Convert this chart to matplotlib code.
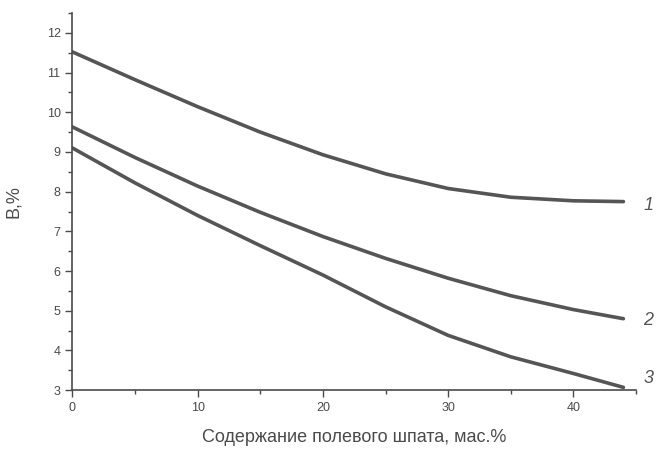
import matplotlib
matplotlib.use("Agg")
from matplotlib import pyplot as plt
from matplotlib.ticker import MultipleLocator

plt.rcParams['font.family'] = ['Liberation Sans', 'DejaVu Sans']

# feldspar content, mass %
x = [0, 5, 10, 15, 20, 25, 30, 35, 40, 44]
curve_1 = [11.52, 10.82, 10.14, 9.50, 8.93, 8.45, 8.08, 7.86, 7.77, 7.75]
curve_2 = [9.63, 8.86, 8.14, 7.48, 6.87, 6.32, 5.82, 5.38, 5.03, 4.80]
curve_3 = [9.10, 8.22, 7.40, 6.64, 5.90, 5.10, 4.38, 3.84, 3.42, 3.07]
curve_names = ['1', '2', '3']
label_y = [7.65, 4.75, 3.3]

ink = '#4a4a4a'

fig = plt.figure(figsize=(6.59, 4.5), dpi=100)
ax = fig.add_axes([0.11, 0.133, 0.855, 0.838])

for ys in (curve_1, curve_2, curve_3):
    ax.plot(x, ys, color='#555555', lw=2.6, solid_capstyle='round',
            solid_joinstyle='round')

for name, ly in zip(curve_names, label_y):
    ax.text(46, ly, name, fontsize=13, style='italic', color='#555555',
            ha='center', va='center', clip_on=False)

ax.set_xlim(0, 45)
ax.set_ylim(3, 12.5)
ax.xaxis.set_major_locator(MultipleLocator(10))
ax.xaxis.set_minor_locator(MultipleLocator(5))
ax.yaxis.set_major_locator(MultipleLocator(1))
ax.yaxis.set_minor_locator(MultipleLocator(0.5))
ax.set_xticks(list(range(0, 41, 10)))

for side in ('top', 'right'):
    ax.spines[side].set_visible(False)
for side in ('left', 'bottom'):
    ax.spines[side].set_color(ink)
    ax.spines[side].set_linewidth(1.2)

ax.tick_params(which='both', direction='out', color=ink, width=1.0,
               labelsize=9, labelcolor=ink)
ax.tick_params(which='major', length=5)
ax.tick_params(which='minor', length=3)

ax.set_ylabel('B,%', fontsize=13, color=ink, labelpad=18)
ax.set_xlabel('Содержание полевого шпата, мас.%', fontsize=13, color=ink,
              labelpad=11)

fig.savefig('out.png', dpi=100)
